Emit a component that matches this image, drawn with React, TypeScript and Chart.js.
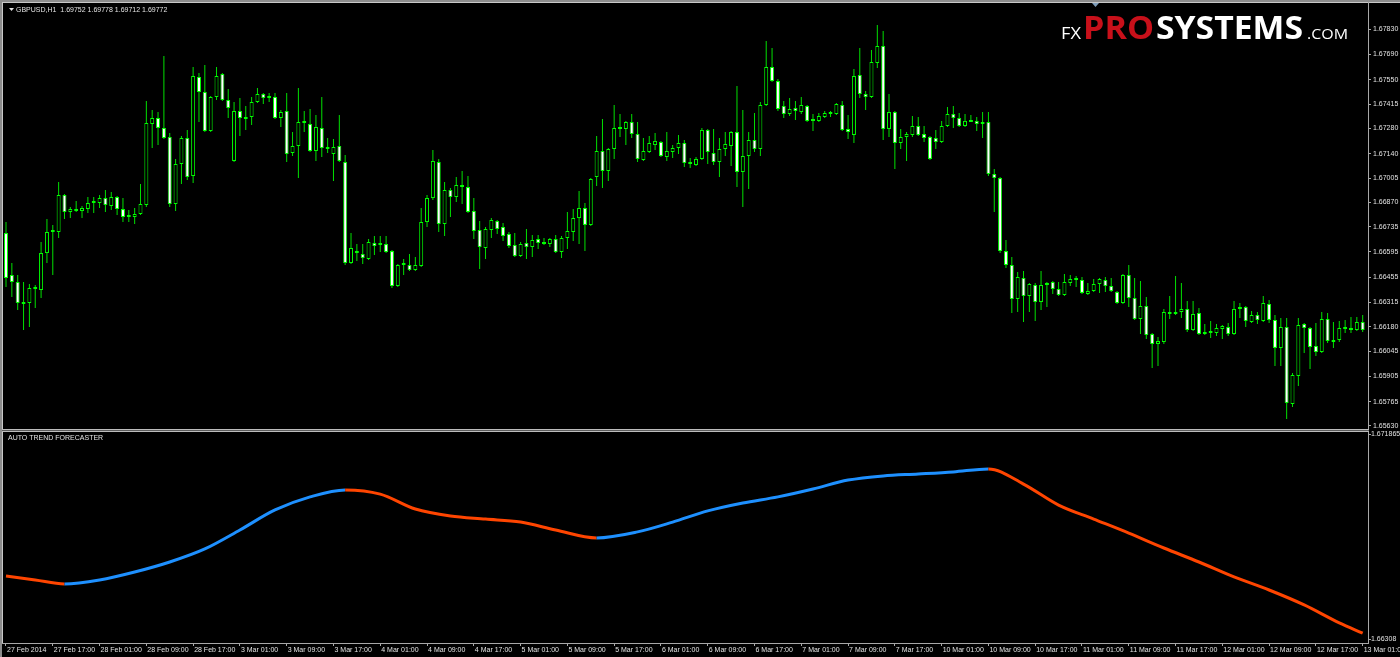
import React, { useEffect, useRef } from 'react';
import { Chart, registerables } from 'chart.js';

Chart.register(...registerables);

// ---------- DATA ----------
const OPEN = [
  1.66700,1.66467,1.66429,1.66307,1.66312,1.66390,1.66384,1.66589,1.66706,1.66706,
  1.66911,1.66817,1.66822,1.66822,1.66833,1.66867,1.66867,1.66894,1.66850,1.66900,
  1.66833,1.66789,1.66789,1.66806,1.66856,1.67305,1.67338,1.67283,1.67233,1.66861,
  1.67083,1.67227,1.67016,1.67566,1.67482,1.67266,1.67455,1.67582,1.67438,1.67100,
  1.67377,1.67333,1.67344,1.67427,1.67471,1.67449,1.67455,1.67338,1.67377,1.67144,
  1.67183,1.67310,1.67305,1.67155,1.67283,1.67166,1.67138,1.67183,1.67094,1.66534,
  1.66589,1.66584,1.66556,1.66645,1.66634,1.66639,1.66600,1.66406,1.66523,1.66523,
  1.66495,1.66517,1.66761,1.66894,1.67094,1.66750,1.66939,1.66900,1.66955,1.66955,
  1.66822,1.66717,1.66617,1.66717,1.66767,1.66734,1.66695,1.66634,1.66573,1.66645,
  1.66623,1.66667,1.66639,1.66639,1.66667,1.66595,1.66673,1.66706,1.66783,1.66839,
  1.66745,1.67011,1.67155,1.67044,1.67166,1.67277,1.67277,1.67316,1.67249,1.67105,
  1.67150,1.67188,1.67205,1.67122,1.67150,1.67172,1.67200,1.67083,1.67077,1.67111,
  1.67272,1.67144,1.67094,1.67166,1.67183,1.67260,1.67039,1.67127,1.67216,1.67166,
  1.67410,1.67621,1.67543,1.67405,1.67360,1.67394,1.67371,1.67405,1.67322,1.67322,
  1.67344,1.67360,1.67360,1.67410,1.67277,1.67244,1.67577,1.67471,1.67455,1.67643,
  1.67737,1.67277,1.67371,1.67200,1.67233,1.67244,1.67294,1.67249,1.67233,1.67227,
  1.67205,1.67294,1.67360,1.67338,1.67294,1.67316,1.67322,1.67305,1.67316,1.67028,
  1.67005,1.66600,1.66523,1.66334,1.66451,1.66351,1.66412,1.66318,1.66412,1.66429,
  1.66390,1.66357,1.66423,1.66451,1.66440,1.66362,1.66379,1.66417,1.66440,1.66406,
  1.66373,1.66312,1.66467,1.66340,1.66223,1.66295,1.66140,1.66085,1.66096,1.66251,
  1.66251,1.66262,1.66279,1.66162,1.66257,1.66140,1.66146,1.66146,1.66168,1.66179,
  1.66140,1.66279,1.66290,1.66207,1.66246,1.66212,1.66307,1.66218,1.66063,1.66179,
  1.65752,1.65907,1.66196,1.66173,1.66074,1.66040,1.66223,1.66096,1.66107,1.66168,
  1.66162,1.66162,1.66207,
];
const HIGH = [
  1.66761,1.66534,1.66467,1.66429,1.66417,1.66412,1.66650,1.66778,1.66745,1.66983,
  1.66917,1.66845,1.66878,1.66850,1.66900,1.66900,1.66911,1.66939,1.66928,1.66906,
  1.66894,1.66828,1.66839,1.66972,1.67432,1.67382,1.67371,1.67682,1.67255,1.67111,
  1.67238,1.67272,1.67621,1.67588,1.67632,1.67460,1.67621,1.67588,1.67499,1.67427,
  1.67449,1.67405,1.67455,1.67504,1.67477,1.67477,1.67477,1.67382,1.67477,1.67260,
  1.67504,1.67377,1.67388,1.67355,1.67455,1.67227,1.67222,1.67355,1.67133,1.66700,
  1.66639,1.66639,1.66667,1.66684,1.66684,1.66684,1.66606,1.66528,1.66556,1.66584,
  1.66567,1.66839,1.66911,1.67161,1.67111,1.66983,1.66950,1.67011,1.67044,1.67016,
  1.66894,1.66767,1.66734,1.66783,1.66772,1.66756,1.66706,1.66700,1.66650,1.66722,
  1.66689,1.66689,1.66673,1.66673,1.66689,1.66684,1.66817,1.66833,1.66933,1.66867,
  1.67005,1.67238,1.67333,1.67172,1.67410,1.67360,1.67322,1.67360,1.67316,1.67227,
  1.67238,1.67255,1.67211,1.67260,1.67188,1.67244,1.67216,1.67116,1.67122,1.67283,
  1.67277,1.67277,1.67227,1.67260,1.67266,1.67516,1.67382,1.67260,1.67366,1.67427,
  1.67765,1.67726,1.67554,1.67432,1.67449,1.67432,1.67455,1.67410,1.67360,1.67366,
  1.67377,1.67377,1.67421,1.67432,1.67355,1.67610,1.67726,1.67488,1.67715,1.67854,
  1.67821,1.67471,1.67377,1.67277,1.67260,1.67349,1.67344,1.67294,1.67238,1.67272,
  1.67322,1.67399,1.67405,1.67366,1.67360,1.67355,1.67344,1.67371,1.67371,1.67055,
  1.67011,1.66661,1.66567,1.66484,1.66490,1.66423,1.66423,1.66490,1.66429,1.66434,
  1.66429,1.66473,1.66467,1.66462,1.66456,1.66423,1.66445,1.66451,1.66456,1.66451,
  1.66379,1.66473,1.66523,1.66451,1.66434,1.66345,1.66146,1.66124,1.66279,1.66351,
  1.66462,1.66423,1.66323,1.66323,1.66284,1.66196,1.66212,1.66196,1.66190,1.66201,
  1.66323,1.66312,1.66295,1.66268,1.66262,1.66351,1.66329,1.66246,1.66229,1.66229,
  1.65924,1.66229,1.66201,1.66179,1.66201,1.66262,1.66257,1.66207,1.66212,1.66218,
  1.66234,1.66234,1.66246,
];
const LOW = [
  1.66401,1.66345,1.66273,1.66162,1.66179,1.66284,1.66340,1.66534,1.66467,1.66673,
  1.66778,1.66783,1.66817,1.66783,1.66811,1.66811,1.66839,1.66817,1.66828,1.66800,
  1.66761,1.66761,1.66750,1.66800,1.66845,1.67172,1.67188,1.67222,1.66845,1.66822,
  1.66972,1.66994,1.66978,1.67316,1.67260,1.67260,1.67438,1.67432,1.67338,1.67094,
  1.67238,1.67272,1.67299,1.67421,1.67416,1.67427,1.67333,1.67288,1.67094,1.67127,
  1.67005,1.67260,1.67150,1.67100,1.67122,1.67144,1.66989,1.67094,1.66523,1.66528,
  1.66545,1.66528,1.66551,1.66578,1.66595,1.66589,1.66395,1.66401,1.66467,1.66490,
  1.66490,1.66512,1.66734,1.66883,1.66706,1.66684,1.66789,1.66872,1.66861,1.66811,
  1.66667,1.66501,1.66556,1.66673,1.66695,1.66656,1.66617,1.66567,1.66567,1.66556,
  1.66567,1.66612,1.66634,1.66623,1.66589,1.66562,1.66612,1.66656,1.66639,1.66600,
  1.66739,1.66961,1.66950,1.66989,1.67111,1.67233,1.67188,1.67227,1.67094,1.67100,
  1.67144,1.67161,1.67122,1.67100,1.67116,1.67138,1.67066,1.67061,1.67072,1.67105,
  1.67083,1.67077,1.67011,1.67127,1.67072,1.66955,1.66845,1.66944,1.67150,1.67127,
  1.67405,1.67538,1.67377,1.67338,1.67349,1.67327,1.67360,1.67316,1.67266,1.67316,
  1.67338,1.67344,1.67355,1.67266,1.67222,1.67200,1.67449,1.67382,1.67449,1.67615,
  1.67216,1.67233,1.67055,1.67166,1.67100,1.67233,1.67238,1.67205,1.67105,1.67166,
  1.67200,1.67288,1.67283,1.67288,1.67288,1.67316,1.67266,1.67227,1.67016,1.66817,
  1.66589,1.66506,1.66257,1.66262,1.66207,1.66262,1.66212,1.66273,1.66290,1.66362,
  1.66351,1.66351,1.66406,1.66401,1.66362,1.66357,1.66373,1.66368,1.66373,1.66373,
  1.66307,1.66307,1.66290,1.66218,1.66140,1.66112,1.65952,1.65963,1.66085,1.66223,
  1.66246,1.66229,1.66151,1.66157,1.66135,1.66135,1.66118,1.66129,1.66112,1.66129,
  1.66135,1.66229,1.66179,1.66201,1.66196,1.66207,1.66201,1.65963,1.65963,1.65669,
  1.65735,1.65852,1.66035,1.65946,1.66018,1.66035,1.66090,1.66063,1.66096,1.66146,
  1.66146,1.66157,1.66151,
];
const CLOSE = [
  1.66451,1.66429,1.66312,1.66318,1.66395,1.66401,1.66589,1.66706,1.66717,1.66911,
  1.66817,1.66833,1.66828,1.66839,1.66867,1.66872,1.66894,1.66856,1.66900,1.66833,
  1.66789,1.66795,1.66806,1.66861,1.67310,1.67338,1.67283,1.67227,1.66861,1.67083,
  1.67227,1.67011,1.67571,1.67482,1.67266,1.67455,1.67571,1.67438,1.67394,1.67377,
  1.67338,1.67338,1.67427,1.67471,1.67449,1.67460,1.67338,1.67371,1.67138,1.67183,
  1.67316,1.67316,1.67155,1.67288,1.67172,1.67177,1.67177,1.67100,1.66534,1.66617,
  1.66595,1.66562,1.66650,1.66628,1.66639,1.66595,1.66406,1.66523,1.66528,1.66495,
  1.66523,1.66761,1.66894,1.67100,1.66750,1.66939,1.66900,1.66967,1.66961,1.66817,
  1.66711,1.66623,1.66722,1.66772,1.66722,1.66684,1.66628,1.66573,1.66639,1.66623,
  1.66661,1.66645,1.66645,1.66667,1.66595,1.66673,1.66711,1.66783,1.66839,1.66745,
  1.67000,1.67155,1.67044,1.67166,1.67283,1.67283,1.67316,1.67249,1.67111,1.67155,
  1.67200,1.67211,1.67127,1.67155,1.67172,1.67200,1.67089,1.67089,1.67111,1.67272,
  1.67150,1.67094,1.67166,1.67194,1.67260,1.67039,1.67127,1.67216,1.67166,1.67410,
  1.67621,1.67543,1.67388,1.67360,1.67388,1.67377,1.67410,1.67322,1.67327,1.67349,
  1.67366,1.67366,1.67416,1.67272,1.67260,1.67571,1.67471,1.67455,1.67649,1.67737,
  1.67277,1.67371,1.67200,1.67233,1.67249,1.67294,1.67244,1.67227,1.67111,1.67205,
  1.67294,1.67360,1.67338,1.67294,1.67322,1.67322,1.67305,1.67316,1.67028,1.67005,
  1.66600,1.66523,1.66334,1.66456,1.66351,1.66417,1.66318,1.66412,1.66423,1.66390,
  1.66357,1.66429,1.66445,1.66440,1.66368,1.66379,1.66417,1.66445,1.66406,1.66379,
  1.66312,1.66467,1.66340,1.66223,1.66295,1.66135,1.66085,1.66101,1.66262,1.66257,
  1.66262,1.66279,1.66162,1.66251,1.66140,1.66151,1.66151,1.66173,1.66185,1.66140,
  1.66279,1.66290,1.66212,1.66246,1.66218,1.66312,1.66218,1.66063,1.66179,1.65758,
  1.65913,1.66190,1.66173,1.66068,1.66040,1.66223,1.66101,1.66101,1.66173,1.66173,
  1.66168,1.66207,1.66162,
];

// Auto Trend Forecaster line, read at these bar indices
const IND_BARS = [0,5,10,16,22,28,34,40,46,52,58,64,70,76,82,88,94,101,108,114,120,126,132,138,144,150,156,162,168,174,180,186,192,198,204,210,216,222,228,232];
const IND_VALUES = [
  1.66578,1.66561,1.66544,1.66561,1.66595,1.66638,1.66694,1.66775,1.66861,1.66917,
  1.66947,1.66929,1.66865,1.66835,1.66822,1.66809,1.66775,1.66741,1.66767,1.66809,
  1.66857,1.66891,1.66917,1.66951,1.66989,1.67007,1.67015,1.67024,1.67037,1.66972,
  1.66882,1.66822,1.66762,1.66698,1.66638,1.66574,1.66518,1.66454,1.66377,1.66333,
];

const TIME_TICK_BARS = [0,8,16,24,32,40,48,56,64,72,80,88,96,104,112,120,128,136,144,152,160,168,176,184,192,200,208,216,224,232];
const TIME_LABELS = [
  '27 Feb 2014','27 Feb 17:00','28 Feb 01:00','28 Feb 09:00','28 Feb 17:00',
  '3 Mar 01:00','3 Mar 09:00','3 Mar 17:00','4 Mar 01:00','4 Mar 09:00',
  '4 Mar 17:00','5 Mar 01:00','5 Mar 09:00','5 Mar 17:00','6 Mar 01:00',
  '6 Mar 09:00','6 Mar 17:00','7 Mar 01:00','7 Mar 09:00','7 Mar 17:00',
  '10 Mar 01:00','10 Mar 09:00','10 Mar 17:00','11 Mar 01:00','11 Mar 09:00',
  '11 Mar 17:00','12 Mar 01:00','12 Mar 09:00','12 Mar 17:00','13 Mar 01:00',
];
const PRICE_LABELS = [
  '1.67830','1.67690','1.67550','1.67415','1.67280','1.67140','1.67005','1.66870',
  '1.66735','1.66595','1.66455','1.66315','1.66180','1.66045','1.65905','1.65765','1.65630',
];
const IND_LABELS = ['1.66308', '1.671865'];

const TITLE = 'GBPUSD,H1  1.69752 1.69778 1.69712 1.69772';
const IND_NAME = 'AUTO TREND FORECASTER';

// ---------- STYLE ----------
const TXT = '#e2e2e2';
const LIME = '#00ff00';
const WICK = '#00e000';
const BLUE = '#1e90ff';
const ORANGE = '#ff4500';
const FONT = 'Liberation Sans';

const decor = {
  id: 'decor',
  beforeDraw(chart: any) {
    const c = chart.ctx;
    c.save();
    c.fillStyle = '#000';
    c.fillRect(0, 0, chart.width, chart.height);
    c.restore();
  },
  afterDraw(chart: any) {
    const c = chart.ctx;
    const a = chart.chartArea;
    const sep = chart.scales.y.bottom;
    c.save();
    // window frame
    c.fillStyle = '#8c8c8c';
    c.fillRect(0, 0, chart.width, 2);
    c.fillRect(0, 0, 2, chart.height);
    c.fillStyle = '#c8c8c8';
    c.fillRect(2, 2, chart.width - 2, 1);
    c.fillRect(2, 2, 1, a.bottom - 2);
    // chart borders
    c.fillStyle = '#a8a8a8';
    c.fillRect(a.right, 2, 1, a.bottom - 1);
    c.fillRect(2, a.bottom, a.right - 1, 1);
    // separator between panes
    c.fillStyle = '#bcbcbc';
    c.fillRect(2, sep - 2, a.right - 1, 1);
    c.fillRect(2, sep, a.right - 1, 1);
    c.fillStyle = '#5c5c5c';
    c.fillRect(2, sep - 1, a.right - 1, 1);

    // title + triangle
    c.fillStyle = TXT;
    c.beginPath();
    c.moveTo(9, 8); c.lineTo(14, 8); c.lineTo(11.5, 11); c.closePath(); c.fill();
    c.font = `7px "${FONT}"`;
    c.textBaseline = 'middle';
    c.textAlign = 'left';
    c.fillText(TITLE, 16, 10);
    c.fillText(IND_NAME, 8, sep + 7);

    // shift marker
    c.fillStyle = '#7f9db9';
    c.beginPath();
    c.moveTo(1092, 3); c.lineTo(1099, 3); c.lineTo(1095.5, 7); c.closePath(); c.fill();

    // logo
    const fit = (text: string, font: string, color: string, x: number, base: number, w: number) => {
      c.save();
      c.font = font;
      const m = c.measureText(text).width || 1;
      c.translate(x, base);
      c.scale(w / m, 1);
      c.fillStyle = color;
      c.textBaseline = 'alphabetic';
      c.textAlign = 'left';
      c.fillText(text, 0, 0);
      c.restore();
    };
    fit('FX', '16px "Open Sans"', '#ffffff', 1061, 38.5, 20);
    fit('PRO', 'bold 33px "Open Sans"', '#c8101a', 1083, 38.5, 71);
    fit('SYSTEMS', 'bold 33px "Open Sans"', '#ffffff', 1156, 38.5, 147);
    fit('.COM', '15px "Open Sans"', '#ffffff', 1307, 38.5, 41);
    c.restore();
  },
};

export default function App() {
  const ref = useRef<HTMLCanvasElement>(null);
  useEffect(() => {
    document.body.style.margin = '0';
    document.body.style.background = '#000';
    const bodies = OPEN.map((o, i) => ({ x: i, y: [o, CLOSE[i]] }));
    const bodyFill = OPEN.map((o, i) => (CLOSE[i] < o ? '#ffffff' : '#000000'));
    const wicks = LOW.map((l, i) => ({ x: i, y: [l, HIGH[i]] }));
    const ind = IND_BARS.map((b, i) => ({ x: b, y: IND_VALUES[i] }));

    const tickFont = { family: FONT, size: 7 };
    const chart = new Chart(ref.current as HTMLCanvasElement, {
      type: 'bar',
      data: {
        datasets: [
          {
            type: 'bar',
            label: 'body',
            data: bodies as any,
            xAxisID: 'x',
            yAxisID: 'y',
            backgroundColor: bodyFill,
            borderColor: LIME,
            borderWidth: 1,
            borderSkipped: false,
            barThickness: 4,
            grouped: false,
            minBarLength: 2,
            inflateAmount: 0,
            order: 0,
          } as any,
          {
            type: 'bar',
            label: 'wick',
            data: wicks as any,
            xAxisID: 'x',
            yAxisID: 'y',
            backgroundColor: WICK,
            borderWidth: 0,
            barThickness: 1,
            grouped: false,
            inflateAmount: 0,
            order: 1,
          } as any,
          {
            type: 'line',
            label: IND_NAME,
            data: ind as any,
            xAxisID: 'x',
            yAxisID: 'y2',
            borderColor: ORANGE,
            borderWidth: 3,
            pointRadius: 0,
            cubicInterpolationMode: 'monotone',
            segment: {
              borderColor: (ctx: any) => (ctx.p1.parsed.y > ctx.p0.parsed.y ? BLUE : ORANGE),
            },
            order: 0,
          } as any,
        ],
      },
      options: {
        responsive: false,
        animation: false,
        devicePixelRatio: 1,
        events: [],
        layout: { padding: { left: 4, top: 4, right: 0, bottom: 0 } },
        plugins: { legend: { display: false }, tooltip: { enabled: false } },
        scales: {
          x: {
            type: 'linear',
            position: 'bottom',
            min: -0.342,
            max: 232.91,
            offset: false,
            grid: { display: true, drawOnChartArea: false, drawTicks: true, tickLength: 3, color: '#a8a8a8', offset: false },
            border: { display: false },
            ticks: {
              autoSkip: false,
              maxRotation: 0,
              minRotation: 0,
              align: 'start',
              labelOffset: 1,
              padding: 0,
              color: TXT,
              font: tickFont,
              callback: (_v: any, i: number) => TIME_LABELS[i] ?? '',
            },
            afterBuildTicks: (s: any) => { s.ticks = TIME_TICK_BARS.map((v) => ({ value: v })); },
            afterFit: (s: any) => { s.height = 14; s.paddingLeft = 0; s.paddingRight = 0; },
          },
          y: {
            type: 'linear',
            position: 'right',
            stack: 'panes',
            stackWeight: 427,
            min: 1.656022,
            max: 1.679703,
            beginAtZero: false,
            grid: { display: true, drawOnChartArea: false, drawTicks: true, tickLength: 3, color: '#a8a8a8' },
            border: { display: false },
            ticks: {
              color: TXT,
              font: tickFont,
              padding: 2,
              autoSkip: false,
              callback: (_v: any, i: number) => PRICE_LABELS[i] ?? '',
            },
            afterBuildTicks: (s: any) => { s.ticks = PRICE_LABELS.map((l) => ({ value: parseFloat(l) })); },
            afterFit: (s: any) => { s.width = 32; s.paddingTop = 0; s.paddingBottom = 0; },
          },
          y2: {
            type: 'linear',
            position: 'right',
            stack: 'panes',
            stackWeight: 212,
            min: 1.6629086,
            max: 1.6719936,
            beginAtZero: false,
            grid: { display: true, drawOnChartArea: false, drawTicks: true, tickLength: 3, color: '#a8a8a8' },
            border: { display: false },
            ticks: {
              color: TXT,
              font: tickFont,
              padding: 0,
              autoSkip: false,
              callback: (_v: any, i: number) => IND_LABELS[i] ?? '',
            },
            afterBuildTicks: (s: any) => { s.ticks = IND_LABELS.map((l) => ({ value: parseFloat(l) })); },
            afterFit: (s: any) => { s.width = 32; s.paddingTop = 0; s.paddingBottom = 0; },
          },
        } as any,
      },
      plugins: [decor],
    } as any);
    return () => chart.destroy();
  }, []);

  return (
    <div style={{ position: 'fixed', left: 0, top: 0, width: 1400, height: 657, background: '#000' }}>
      <canvas ref={ref} width={1400} height={657} style={{ display: 'block', width: 1400, height: 657 }} />
    </div>
  );
}
